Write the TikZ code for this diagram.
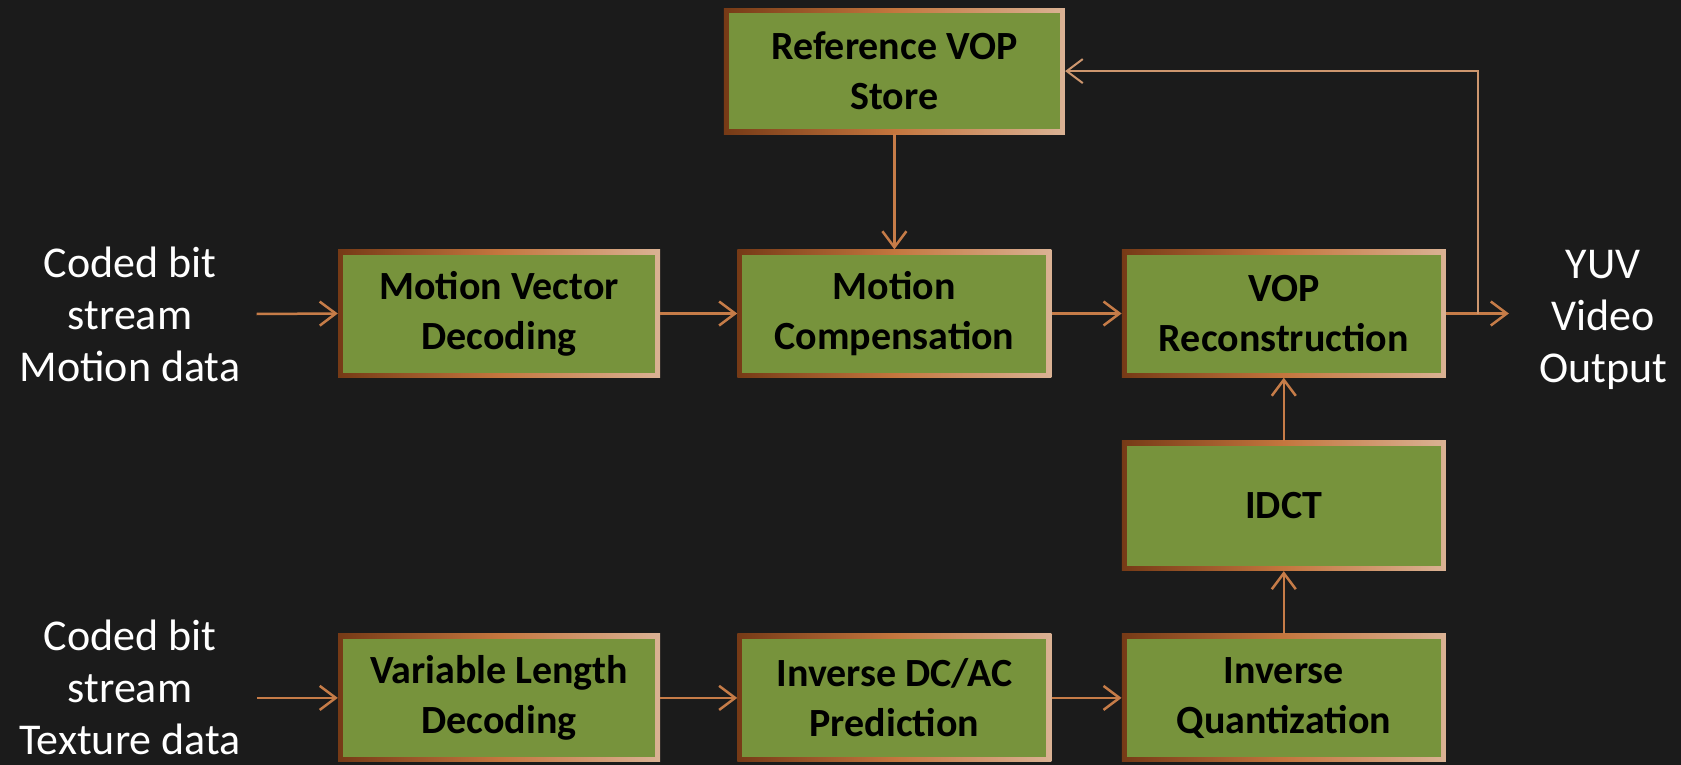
\documentclass[tikz,border=0pt]{standalone}
\usepackage{fontspec}
\setmainfont{Carlito}
\usetikzlibrary{arrows.meta,positioning}
\definecolor{bgdark}{RGB}{27,27,27}
\definecolor{boxgreen}{RGB}{119,147,60}
\definecolor{brdA}{RGB}{118,58,22}
\definecolor{brdB}{RGB}{196,118,62}
\definecolor{brdC}{RGB}{218,178,148}
\definecolor{flowcol}{RGB}{198,124,72}
\definecolor{fbcol}{RGB}{205,150,110}
\tikzset{
stage/.style={
  rectangle,
  minimum width=322pt,
  minimum height=128pt,
  align=center,
  text=black,
  font=\fontsize{40}{50}\selectfont\bfseries,
  path picture={
    \shade[left color=brdA, right color=brdC, middle color=brdB]
      (path picture bounding box.south west) rectangle (path picture bounding box.north east);
    \fill[boxgreen]
      ([shift={(5pt,5pt)}]path picture bounding box.south west) rectangle
      ([shift={(-5pt,-5pt)}]path picture bounding box.north east);
  }
  },
iotext/.style={
  align=center,
  text=white,
  inner xsep=16pt,
  inner ysep=0pt,
  font=\fontsize{44}{52}\selectfont
  },
flow/.style={
  draw=flowcol, line width=2.5pt,
  -{Straight Barb[length=16pt,width=24pt,line width=2.5pt]}
  },
fbline/.style={
  draw=fbcol, line width=2pt,
  -{Straight Barb[length=16pt,width=24pt,line width=2pt]}
  }
}

\begin{document}
\begin{tikzpicture}[x=1pt,y=-1pt]
\fill[bgdark] (0,0) rectangle (1681,765);
\useasboundingbox (0,0) rectangle (1681,765);

% upper row: motion path
\node[stage] (mvd) at (499,313.5) {Motion Vector\\Decoding};
\node[stage, minimum width=314pt, right=77pt of mvd] (mc) {Motion\\Compensation};
\node[stage, minimum width=324pt, right=70pt of mc] (vop) {VOP\\Reconstruction};
\node[stage, minimum width=341pt, minimum height=126pt, above=115pt of mc] (ref) {Reference VOP\\Store};

% lower row: texture path
\node[stage, below=256pt of mvd] (vld) {Variable Length\\Decoding};
\node[stage, minimum width=314pt, right=77pt of vld] (dcac) {Inverse DC/AC\\Prediction};
\node[stage, minimum width=324pt, right=70pt of dcac] (iq) {Inverse\\Quantization};
\node[stage, minimum width=324pt, minimum height=130pt, below=63pt of vop] (idct) {IDCT};

% inputs and output
\node[iotext] (inmot) at (130,314) {Coded bit\\stream\\Motion data};
\node[iotext] (intex) at (130,687) {Coded bit\\stream\\Texture data};
\node[iotext] (yuv) at (1603,320) {YUV\\Video\\Output};

\draw[flow] (inmot.east) -- (mvd.west);
\draw[flow] (mvd.east) -- (mc.west);
\draw[flow] (mc.east) -- (vop.west);
\draw[flow] (ref.south) -- (ref.south |- mc.north);
\draw[flow, shorten >=14pt] (vop.east) -- (vop.east -| yuv.west);

\draw[flow] (intex.east |- vld.west) -- (vld.west);
\draw[flow] (vld.east) -- (dcac.west);
\draw[flow] (dcac.east) -- (iq.west);
\draw[flow] (iq.north) -- (idct.south);
\draw[flow] (idct.north) -- (vop.south);

% feedback to the store
\coordinate (tap) at ([xshift=32pt]vop.east);
\draw[fbline] (tap) |- (ref.east);
\end{tikzpicture}
\end{document}
